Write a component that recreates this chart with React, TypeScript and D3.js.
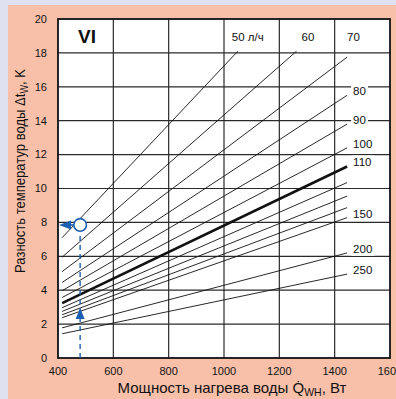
import React from "react";
import * as d3 from "d3";

// Flow rates (l/h) and straight-line endpoints: heating power Q (W) → temperature rise Δt (K)
const flows = [50, 60, 70, 80, 90, 100, 110, 120, 130, 140, 150, 200, 250];
const startQ = [415, 415, 415, 415, 415, 415, 415, 415, 415, 415, 415, 415, 415];
const endQ = [1050, 1262, 1445, 1445, 1445, 1445, 1445, 1445, 1445, 1445, 1445, 1445, 1445];
const startDt = [7.1, 5.95, 5.1, 4.46, 3.97, 3.57, 3.24, 2.97, 2.75, 2.55, 2.38, 1.78, 1.43];
const endDt = [18.1, 18.1, 17.75, 15.5, 13.8, 12.4, 11.3, 10.35, 9.55, 8.87, 8.28, 6.2, 4.95];
const labels = ["50 л/ч", "60", "70", "80", "90", "100", "110", "", "", "", "150", "200", "250"];
const boldFlow = 110;

const xTicks = [400, 600, 800, 1000, 1200, 1400, 1600];
const yTicks = [0, 2, 4, 6, 8, 10, 12, 14, 16, 18, 20];

// Worked example: read-off point
const exampleQ = 480;
const exampleDt = 7.85;
const exampleArrowDt = 2.95;

const W = 396;
const H = 399;
const M = { left: 58, right: 390, top: 19, bottom: 358 };
const BLUE = "#1d5fb0";
const FONT = "'Liberation Sans', Arial, Helvetica, sans-serif";

export default function App() {
  const x = d3.scaleLinear().domain([400, 1600]).range([M.left, M.right]);
  const y = d3.scaleLinear().domain([0, 20]).range([M.bottom, M.top]);
  const line = d3
    .line<[number, number]>()
    .x((d) => x(d[0]))
    .y((d) => y(d[1]));

  const cx = x(exampleQ);
  const cy = y(exampleDt);
  const r = 6.3;

  return (
    <svg
      width={W}
      height={H}
      style={{ position: "absolute", left: 0, top: 0, fontFamily: FONT }}
    >
      <rect x={0} y={0} width={W} height={H} fill="#dfe1f0" />
      <rect x={8} y={5} width={W - 8} height={H - 5} fill="#f9c0a9" />
      <rect
        x={M.left}
        y={M.top}
        width={M.right - M.left}
        height={M.bottom - M.top}
        fill="#ffffff"
      />

      {/* grid */}
      {xTicks.slice(1, -1).map((t) => (
        <line key={"gx" + t} x1={x(t)} x2={x(t)} y1={M.top} y2={M.bottom} stroke="#2a2a2a" strokeWidth={1.2} />
      ))}
      {yTicks.slice(1, -1).map((t) => (
        <line key={"gy" + t} x1={M.left} x2={M.right} y1={y(t)} y2={y(t)} stroke="#2a2a2a" strokeWidth={1.2} />
      ))}

      {/* flow-rate lines */}
      {flows.map((f, i) => (
        <path
          key={"l" + f}
          d={line([
            [startQ[i], startDt[i]],
            [endQ[i], endDt[i]],
          ]) as string}
          fill="none"
          stroke="#111"
          strokeWidth={f === boldFlow ? 2.6 : 0.9}
        />
      ))}

      {/* line labels */}
      {flows.map((f, i) => {
        const t = labels[i];
        if (!t) return null;
        const ex = x(endQ[i]);
        const ey = y(endDt[i]);
        let lx: number;
        let ly: number;
        if (i < 3) {
          const dx = [-6, 5, 0][i];
          lx = ex + dx;
          ly = y(18.95);
        } else {
          lx = ex + 6;
          ly = ey - 4;
        }
        const w = t.length * 6.4 + 4;
        return (
          <g key={"t" + f}>
            <rect x={lx - 2} y={ly - 7} width={w} height={14} fill="#fff" />
            <text x={lx} y={ly} dy="0.35em" fontSize={11.5} fill="#111">
              {t}
            </text>
          </g>
        );
      })}

      {/* plot border */}
      <rect
        x={M.left}
        y={M.top}
        width={M.right - M.left}
        height={M.bottom - M.top}
        fill="none"
        stroke="#111"
        strokeWidth={1.8}
      />

      <text x={78} y={43} fontSize={19} fontWeight="bold" fill="#111">
        VI
      </text>

      {/* example read-off */}
      <line x1={cx} x2={cx} y1={M.bottom} y2={cy + r} stroke={BLUE} strokeWidth={1.4} strokeDasharray="5,4" />
      <path
        d={`M${cx},${y(exampleArrowDt)} L${cx - 4.5},${y(exampleArrowDt) + 11} L${cx + 4.5},${y(exampleArrowDt) + 11} Z`}
        fill={BLUE}
      />
      <line x1={cx - r} x2={M.left + 10} y1={cy} y2={cy} stroke={BLUE} strokeWidth={1.6} />
      <path
        d={`M${M.left + 1},${cy} L${M.left + 13},${cy - 4.5} L${M.left + 13},${cy + 4.5} Z`}
        fill={BLUE}
      />
      <circle cx={cx} cy={cy} r={r} fill="#fff" stroke={BLUE} strokeWidth={1.6} />

      {/* ticks */}
      {xTicks.map((t) => (
        <text key={"xt" + t} x={x(t)} y={375} textAnchor="middle" fontSize={11} fill="#111">
          {t}
        </text>
      ))}
      {yTicks.map((t) => (
        <text key={"yt" + t} x={47} y={y(t)} dy="0.35em" textAnchor="end" fontSize={11} fill="#111">
          {t}
        </text>
      ))}

      {/* axis titles */}
      <text x={232} y={393} textAnchor="middle" fontSize={15} fill="#111">
        Мощность нагрева воды Q̇
        <tspan fontSize={10.5} dy={3}>WH</tspan>
        <tspan dy={-3}>, Вт</tspan>
      </text>
      <g transform={`translate(25,171) rotate(-90) scale(0.87,1)`}>
        <text textAnchor="middle" fontSize={15} fill="#111">
          Разность температур воды Δt
          <tspan fontSize={10.5} dy={3}>W</tspan>
          <tspan dy={-3}>, K</tspan>
        </text>
      </g>
    </svg>
  );
}
